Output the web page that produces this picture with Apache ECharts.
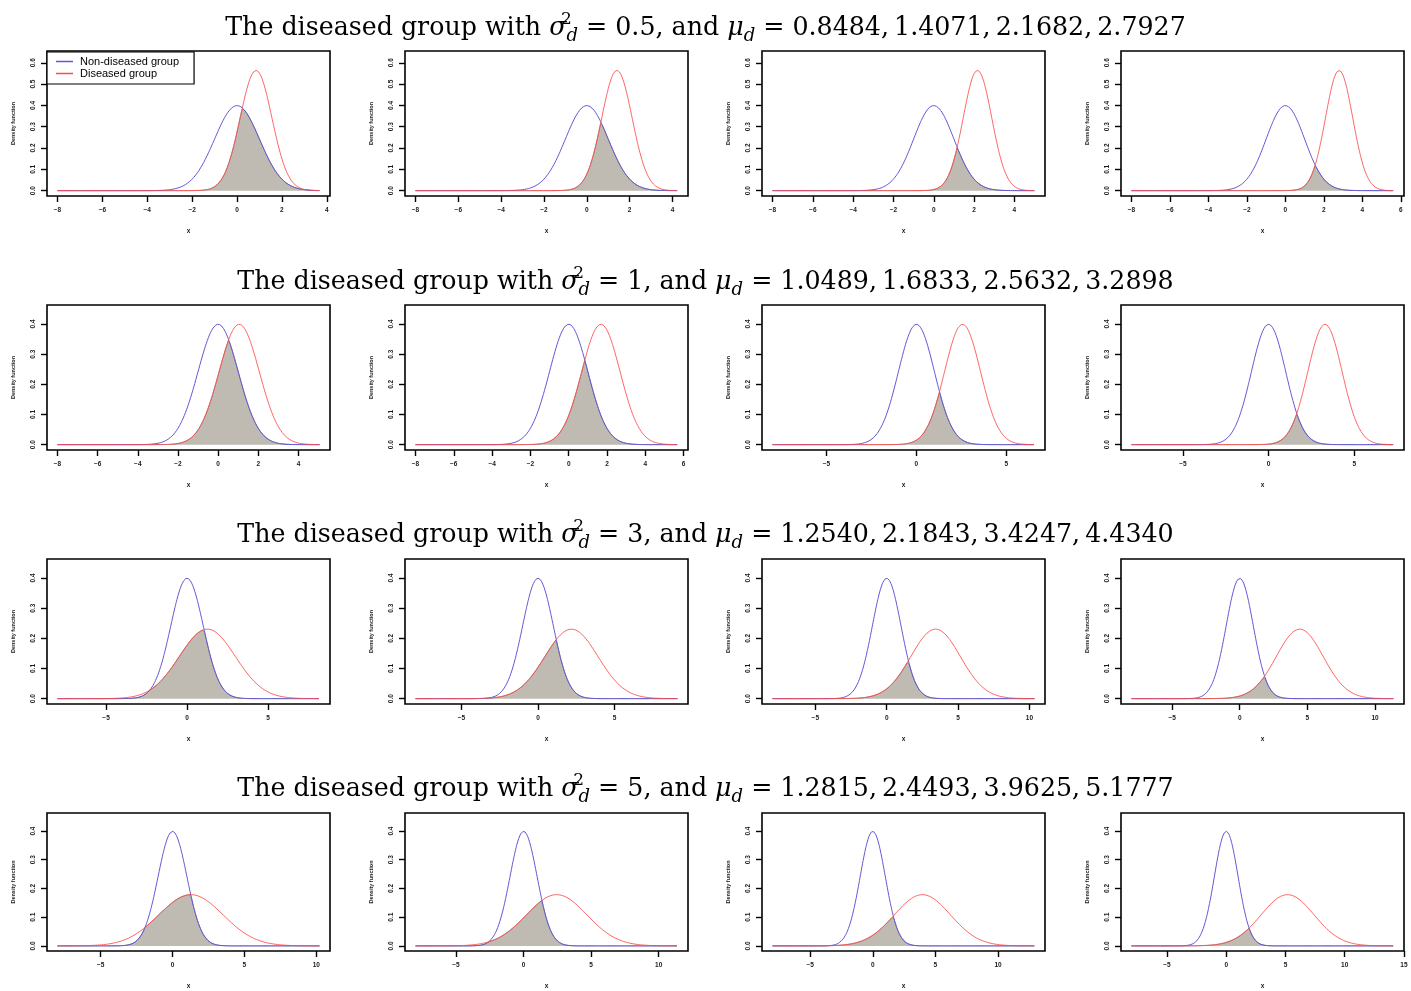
<!DOCTYPE html>
<html>
<head>
<meta charset="utf-8">
<script src="https://cdn.jsdelivr.net/npm/echarts@6/dist/echarts.min.js"></script>
<style>
html,body{margin:0;padding:0;background:#fff;}
#chart{width:1411px;height:991px;}
</style>
</head>
<body>
<div id="chart"></div>
<script>
// ---- data ----
const sigma2D = [0.5, 1, 3, 5];                       // variance of diseased group per row
const muD = [                                          // diseased-group means per row (from the titles)
  [0.8484, 1.4071, 2.1682, 2.7927],
  [1.0489, 1.6833, 2.5632, 3.2898],
  [1.2540, 2.1843, 3.4247, 4.4340],
  [1.2815, 2.4493, 3.9625, 5.1777]
];
const muN = 0;          // non-diseased mean
const sigma2N = 1;      // non-diseased variance
const xStart = -8;      // left end of every curve
const xTicks = [
  [[-8,-6,-4,-2,0,2,4],[-8,-6,-4,-2,0,2,4],[-8,-6,-4,-2,0,2,4],[-8,-6,-4,-2,0,2,4,6]],
  [[-8,-6,-4,-2,0,2,4],[-8,-6,-4,-2,0,2,4,6],[-5,0,5],[-5,0,5]],
  [[-5,0,5],[-5,0,5],[-5,0,5,10],[-5,0,5,10]],
  [[-5,0,5,10],[-5,0,5,10],[-5,0,5,10],[-5,0,5,10,15]]
];
const yTicks = [
  [0,0.1,0.2,0.3,0.4,0.5,0.6],
  [0,0.1,0.2,0.3,0.4],
  [0,0.1,0.2,0.3,0.4],
  [0,0.1,0.2,0.3,0.4]
];
const yTop = [0.63, 0.445, 0.445, 0.445];
const legendNames = ['Non-diseased group', 'Diseased group'];

// ---- layout ----
const colLeft = [47, 405, 762, 1121];
const rowTop = [51, 305, 559, 813];
const boxW = 283, boxH = 145;
const titleTop = [6, 260, 513, 767];

function dnorm(x, m, s2) {
  const s = Math.sqrt(s2);
  return Math.exp(-0.5 * ((x - m) / s) * ((x - m) / s)) / (s * Math.sqrt(2 * Math.PI));
}

const grids = [], xAxes = [], yAxes = [], series = [], titles = [];
const tickFont = {fontFamily: 'Liberation Sans', fontSize: 6.5, color: '#1a1a1a', fontWeight: 'bold'};
const serif = 'DejaVu Serif';

for (let r = 0; r < 4; r++) {
  titles.push({
    left: 'center', top: titleTop[r],
    text: '{n|The diseased group with }{i|σ}{sup|2}{sub|d}{n| = ' + sigma2D[r] + ', and }{i|μ}{sub|d}{n| = ' +
          muD[r].map(v => v.toFixed(4)).join(',\u2009') + '}',
    textStyle: {
      fontWeight: 'normal',
      rich: {
        n: {fontFamily: serif, fontSize: 25.3, fontWeight: 'normal', color: '#000', lineHeight: 34, verticalAlign: 'middle'},
        i: {fontFamily: serif, fontSize: 25.3, fontWeight: 'normal', fontStyle: 'italic', color: '#000', lineHeight: 34, verticalAlign: 'middle'},
        sup: {fontFamily: serif, fontSize: 17, fontWeight: 'normal', color: '#000', lineHeight: 16, verticalAlign: 'top', width: 0},
        sub: {fontFamily: serif, fontSize: 18, fontWeight: 'normal', fontStyle: 'italic', color: '#000', lineHeight: 16, verticalAlign: 'bottom'}
      }
    }
  });
  for (let c = 0; c < 4; c++) {
    const i = r * 4 + c;
    const m = muD[r][c], s2 = sigma2D[r];
    const xEnd = m + 4 * Math.sqrt(s2);
    const pad = 0.04 * (xEnd - xStart);
    grids.push({left: colLeft[c], top: rowTop[r], width: boxW, height: boxH, show: true,
      borderColor: '#000', borderWidth: 1.6, backgroundColor: 'transparent'});
    xAxes.push({
      gridIndex: i, type: 'value', min: xStart - pad, max: xEnd + pad, position: 'bottom',
      axisLine: {show: false, onZero: false}, splitLine: {show: false},
      axisTick: {show: true, length: 6, customValues: xTicks[r][c], lineStyle: {color: '#000', width: 1.4}},
      axisLabel: {show: true, customValues: xTicks[r][c], margin: 11, formatter: v => String(v).replace('-', '\u2212'), ...tickFont},
      name: 'x', nameLocation: 'middle', nameGap: 32,
      nameTextStyle: {fontFamily: 'Liberation Sans', fontSize: 6.5, color: '#1a1a1a', fontWeight: 'bold'}
    });
    yAxes.push({
      gridIndex: i, type: 'value', min: -0.04 * yTop[r], max: yTop[r] * 1.04, position: 'left',
      axisLine: {show: false, onZero: false}, splitLine: {show: false},
      axisTick: {show: true, length: 6, customValues: yTicks[r], lineStyle: {color: '#000', width: 1.4}},
      axisLabel: {show: true, customValues: yTicks[r], rotate: 90, margin: 10, formatter: v => v.toFixed(1), ...tickFont},
      name: 'Density function', nameLocation: 'middle', nameGap: 31, nameRotate: 90,
      nameTextStyle: {fontFamily: 'Liberation Sans', fontSize: 5.5, color: '#1a1a1a', fontWeight: 'bold'}
    });
    const n = 500;
    const dN = [], dD = [], dMin = [];
    for (let k = 0; k <= n; k++) {
      const x = xStart + (xEnd - xStart) * k / n;
      const a = dnorm(x, muN, sigma2N), b = dnorm(x, m, s2);
      dN.push([x, a]); dD.push([x, b]); dMin.push([x, Math.min(a, b)]);
    }
    series.push({type: 'line', name: 'overlap', xAxisIndex: i, yAxisIndex: i, data: dMin, symbol: 'none',
      lineStyle: {color: '#6f6a66', width: 0.6}, areaStyle: {color: '#bfbab2', opacity: 1}, z: 1, silent: true});
    series.push({type: 'line', name: legendNames[0], xAxisIndex: i, yAxisIndex: i, data: dN, symbol: 'none',
      color: '#6258d6', lineStyle: {color: '#6258d6', width: 1}, z: 2, silent: true});
    series.push({type: 'line', name: legendNames[1], xAxisIndex: i, yAxisIndex: i, data: dD, symbol: 'none',
      color: '#ff4a4a', lineStyle: {color: '#ff4a4a', width: 1, opacity: 0.85}, z: 3, silent: true});
  }
}

const chart = echarts.init(document.getElementById('chart'), null, {renderer: 'canvas'});
chart.setOption({
  animation: false,
  backgroundColor: '#fff',
  title: titles,
  legend: {
    data: legendNames, left: 47, top: 52, orient: 'vertical',
    borderColor: '#000', borderWidth: 1.2, backgroundColor: '#fff',
    padding: [4, 15, 5, 9], itemGap: 1, itemWidth: 17, itemHeight: 1.5, icon: 'rect',
    textStyle: {fontFamily: 'Liberation Sans', fontSize: 11, color: '#000', padding: [0, 0, 0, 2]},
    selectedMode: false, z: 10
  },
  grid: grids, xAxis: xAxes, yAxis: yAxes, series: series
});
</script>
</body>
</html>
